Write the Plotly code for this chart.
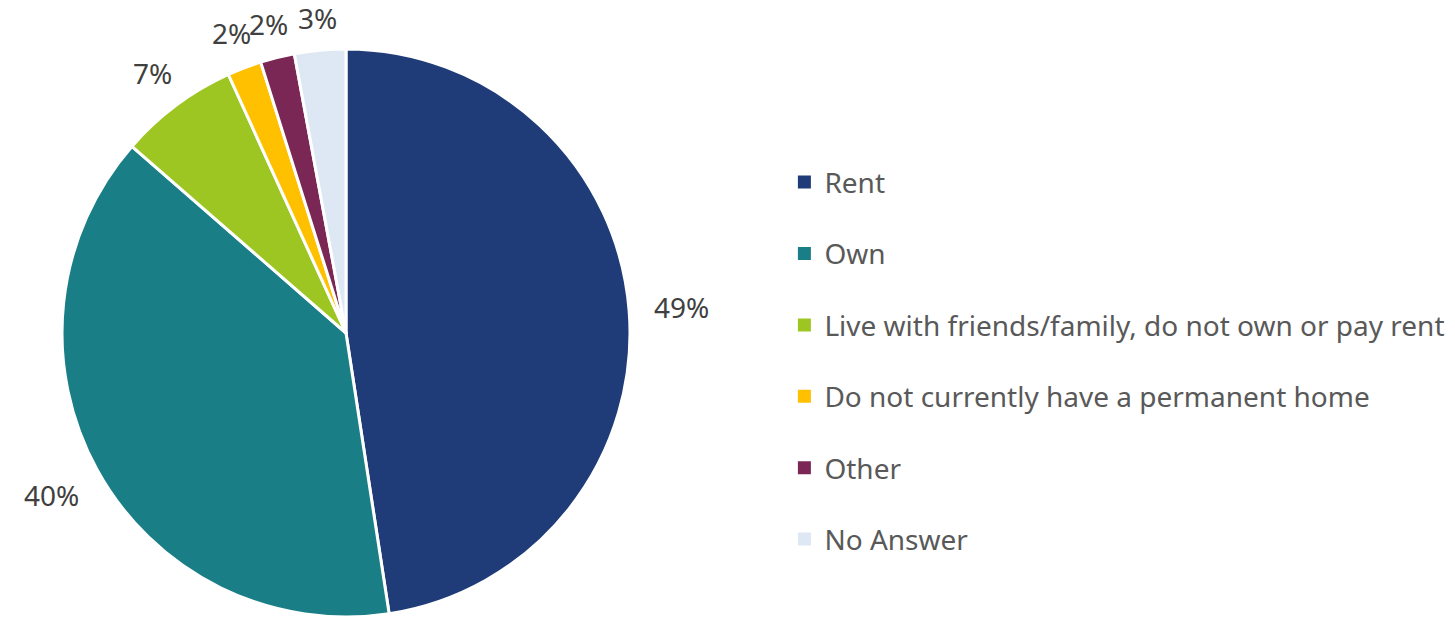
import math
import plotly.graph_objects as go

labels = ["Rent", "Own", "Live with friends/family, do not own or pay rent",
          "Do not currently have a permanent home", "Other", "No Answer"]
values = [49, 40, 7, 2, 2, 3]
colors = ["#1F3C78", "#1A7E86", "#9DC622", "#FFC000", "#7B2755", "#DDE8F4"]

W, H = 1455, 618
cx, cy, r = 346, 333, 284  # pie centre / radius in pixels

fig = go.Figure()

fig.add_trace(go.Pie(
    labels=labels, values=values, sort=False, direction="clockwise", rotation=0,
    marker=dict(colors=colors, line=dict(color="white", width=3)),
    textinfo="none", showlegend=False, hoverinfo="label+value",
    domain=dict(x=[(cx - r) / W, (cx + r) / W], y=[(H - cy - r) / H, (H - cy + r) / H]),
))

# outside-end labels, placed just beyond each slice's mid angle
total = sum(values)
start = 0
for v in values:
    mid = math.radians((start + v / 2) / total * 360)
    start += v
    txt = f"{v}%"
    hw, hh = 10.5 * len(txt), 10
    d = r + 20 + hw * abs(math.sin(mid)) + hh * abs(math.cos(mid))
    px = cx + d * math.sin(mid)
    py = cy - d * math.cos(mid)
    fig.add_annotation(x=px / W, y=1 - py / H, xref="paper", yref="paper",
                       text=txt, showarrow=False, xanchor="center", yanchor="middle",
                       font=dict(size=28, color="#404040", family="Noto Sans"))

# legend entries, one group each so the gap can be set
for i, (lab, col) in enumerate(zip(labels, colors)):
    fig.add_trace(go.Scatter(
        x=[None], y=[None], mode="markers", name=lab, legendgroup=str(i),
        marker=dict(symbol="square", size=13, color=col),
    ))

fig.update_layout(
    width=W, height=H,
    margin=dict(l=0, r=0, t=0, b=0),
    paper_bgcolor="white", plot_bgcolor="white",
    xaxis=dict(visible=False), yaxis=dict(visible=False),
    legend=dict(x=0.5391, y=0.416, xanchor="left", yanchor="middle",
                font=dict(size=28, color="#595959", family="Noto Sans"),
                tracegroupgap=32, itemwidth=30),
)

# drop the default page margin so the figure sits at the window's corner
fig.write_html("out.html", config={"displayModeBar": False},
               post_script="document.body.style.margin='0';")
